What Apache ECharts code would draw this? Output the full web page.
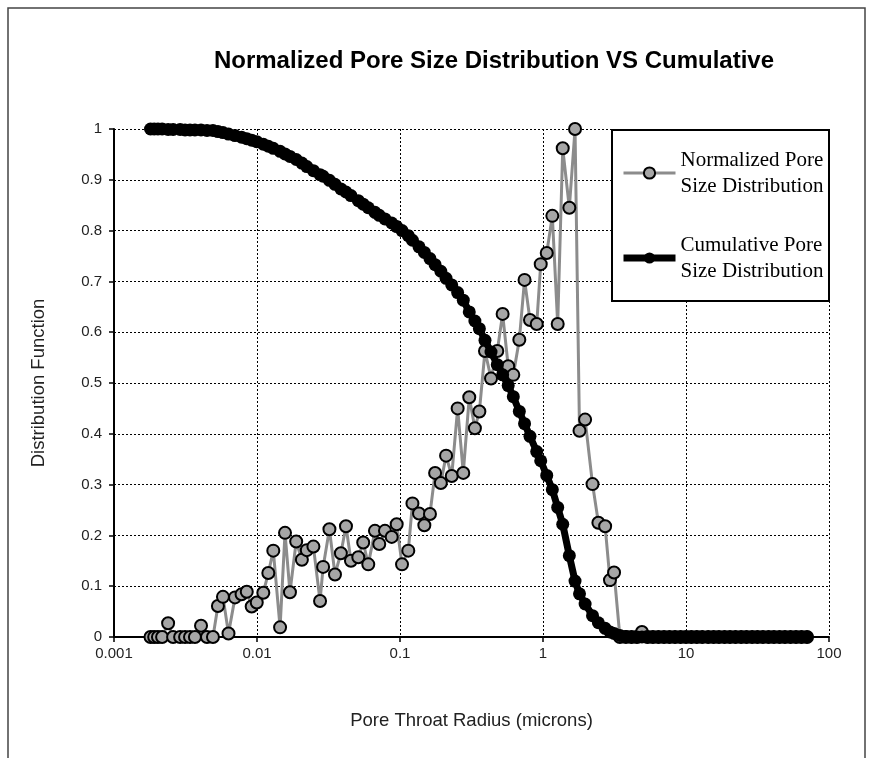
<!DOCTYPE html>
<html>
<head>
<meta charset="utf-8">
<style>
  html, body { margin: 0; padding: 0; background: #fff; }
  #chart { width: 870px; height: 758px; }
</style>
<script src="https://cdn.jsdelivr.net/npm/echarts/dist/echarts.min.js"></script>
</head>
<body>
<div id="chart"></div>
<script>
// pore throat radius (microns), shared by both series
const radius = [
  0.0018, 0.00191, 0.00203, 0.00217, 0.00239, 0.00259, 0.0029, 0.00314, 0.0034, 0.00368,
  0.00406, 0.00447, 0.00492, 0.00533, 0.00578, 0.00632, 0.00702, 0.0078, 0.00848, 0.00918,
  0.00996, 0.01107, 0.012, 0.013, 0.0145, 0.0157, 0.017, 0.0188, 0.0206, 0.0223,
  0.0248, 0.0276, 0.029, 0.0321, 0.0351, 0.0386, 0.0419, 0.0454, 0.0511, 0.0553,
  0.06, 0.0668, 0.0716, 0.0785, 0.0875, 0.0948, 0.1033, 0.1143, 0.1222, 0.1358,
  0.148, 0.162, 0.176, 0.193, 0.21, 0.23, 0.253, 0.277, 0.305, 0.334,
  0.359, 0.393, 0.433, 0.479, 0.522, 0.571, 0.62, 0.683, 0.743, 0.811,
  0.904, 0.964, 1.062, 1.162, 1.267, 1.374, 1.528, 1.675, 1.8, 1.97,
  2.22, 2.44, 2.72, 2.94, 3.14, 3.45, 3.8, 4.16, 4.54, 4.92,
  5.38, 5.87, 6.42, 7.02, 7.67, 8.38, 9.16, 10.0, 10.9, 11.9,
  13.0, 14.3, 15.6, 17.0, 18.6, 20.3, 22.2, 24.3, 26.5, 29.0,
  31.6, 34.5, 37.8, 41.2, 45.1, 49.2, 53.8, 58.8, 64.2, 70.2
];

// normalized pore size distribution
const normalized = [
  0, 0, 0, 0, 0.027, 0, 0, 0, 0, 0,
  0.022, 0, 0, 0.061, 0.079, 0.007, 0.078, 0.084, 0.089, 0.060,
  0.068, 0.087, 0.126, 0.170, 0.019, 0.205, 0.088, 0.188, 0.152, 0.171,
  0.178, 0.071, 0.138, 0.212, 0.123, 0.165, 0.218, 0.150, 0.157, 0.186,
  0.143, 0.209, 0.183, 0.209, 0.197, 0.222, 0.143, 0.170, 0.263, 0.243,
  0.220, 0.242, 0.323, 0.303, 0.357, 0.317, 0.450, 0.323, 0.472, 0.411,
  0.444, 0.563, 0.509, 0.563, 0.636, 0.533, 0.516, 0.585, 0.703, 0.624,
  0.616, 0.734, 0.756, 0.829, 0.616, 0.962, 0.845, 1.0, 0.406, 0.428,
  0.301, 0.225, 0.218, 0.112, 0.127, 0, 0, 0, 0, 0.01,
  0, 0, 0, 0, 0, 0, 0, 0, 0, 0,
  0, 0, 0, 0, 0, 0, 0, 0, 0, 0,
  0, 0, 0, 0, 0, 0, 0, 0, 0, 0
];

// cumulative pore size distribution
const cumulative = [
  1.0, 1.0, 1.0, 1.0, 0.999, 0.999, 0.999, 0.998, 0.998, 0.998,
  0.998, 0.997, 0.997, 0.995, 0.993, 0.990, 0.987, 0.984, 0.981, 0.978,
  0.975, 0.970, 0.966, 0.962, 0.956, 0.951, 0.946, 0.940, 0.933, 0.926,
  0.918, 0.910, 0.907, 0.899, 0.891, 0.882, 0.876, 0.869, 0.859, 0.852,
  0.845, 0.836, 0.830, 0.823, 0.815, 0.808, 0.800, 0.790, 0.781, 0.768,
  0.757, 0.745, 0.733, 0.720, 0.706, 0.693, 0.678, 0.663, 0.640, 0.622,
  0.607, 0.584, 0.561, 0.536, 0.516, 0.495, 0.473, 0.444, 0.420, 0.395,
  0.365, 0.347, 0.318, 0.290, 0.255, 0.222, 0.160, 0.110, 0.085, 0.065,
  0.042, 0.028, 0.017, 0.010, 0.007, 0.003, 0.001, 0, 0, 0,
  0, 0, 0, 0, 0, 0, 0, 0, 0, 0,
  0, 0, 0, 0, 0, 0, 0, 0, 0, 0,
  0, 0, 0, 0, 0, 0, 0, 0, 0, 0
];

const xTickLabels = ["0.001", "0.01", "0.1", "1", "10", "100"];
const seriesNames = ["Normalized Pore Size Distribution", "Cumulative Pore Size Distribution"];

const chartDom = document.getElementById("chart");
const myChart = echarts.init(chartDom, null, { renderer: "canvas" });

const sansFont = "'Liberation Sans', Arial, sans-serif";
const serifFont = "'Liberation Serif', 'Times New Roman', serif";

const option = {
  backgroundColor: "#fff",
  animation: false,
  textStyle: { fontFamily: sansFont, color: "#000" },
  grid: { left: 114, right: 41, top: 129, bottom: 121, containLabel: false },
  xAxis: {
    type: "log",
    logBase: 10,
    min: 0.001,
    max: 100,
    name: "Pore Throat Radius (microns)",
    nameLocation: "middle",
    nameGap: 74,
    nameTextStyle: { fontSize: 18.5, color: "#222", fontFamily: sansFont },
    axisLine: { lineStyle: { color: "#000", width: 2 } },
    axisTick: { show: true, length: 5, lineStyle: { color: "#000", width: 1.5 } },
    axisLabel: {
      fontSize: 15,
      color: "#222",
      margin: 9,
      formatter: function (v) {
        const idx = Math.round(Math.log10(v)) + 3;
        return xTickLabels[idx] || "";
      },
    },
    splitLine: { show: true, lineStyle: { color: "#000", width: 1, type: [2, 2] } },
    minorTick: { show: false },
  },
  yAxis: {
    type: "value",
    min: 0,
    max: 1,
    interval: 0.1,
    name: "Distribution Function",
    nameLocation: "middle",
    nameGap: 66,
    nameTextStyle: { fontSize: 18.5, color: "#222", fontFamily: sansFont },
    axisLine: { show: true, lineStyle: { color: "#000", width: 2 } },
    axisTick: { show: true, length: 5, lineStyle: { color: "#000", width: 1.5 } },
    axisLabel: {
      fontSize: 15,
      color: "#222",
      margin: 12,
      formatter: function (v) { return String(Math.round(v * 10) / 10); },
    },
    splitLine: { show: true, lineStyle: { color: "#000", width: 1, type: [2, 2] } },
  },
  legend: {
    show: true,
    orient: "vertical",
    left: 620,
    top: 147,
    padding: 0,
    itemGap: 33,
    itemWidth: 52,
    itemHeight: 14,
    z: 20,
    textStyle: { fontFamily: serifFont, fontSize: 21, lineHeight: 26, color: "#000" },
    formatter: function (name) { return name.replace(" Size", "\nSize"); },
    data: [
      { name: seriesNames[0], lineStyle: { width: 3, color: "#8c8c8c" } },
      { name: seriesNames[1], lineStyle: { width: 7, color: "#000" } },
    ],
  },
  graphic: [
    {
      type: "rect",
      z: 100,
      silent: true,
      shape: { x: 8, y: 8, width: 857, height: 800 },
      style: { fill: "none", stroke: "#444", lineWidth: 1.5 },
    },
    {
      type: "rect",
      z: 10,
      silent: true,
      shape: { x: 612, y: 130, width: 217, height: 171 },
      style: { fill: "#fff", stroke: "#000", lineWidth: 2 },
    },
    {
      type: "text",
      z: 10,
      x: 494,
      y: 61,
      style: {
        text: "Normalized Pore Size Distribution VS Cumulative",
        fontFamily: sansFont,
        fontWeight: "bold",
        fontSize: 24,
        fill: "#000",
        textAlign: "center",
        textVerticalAlign: "middle",
      },
    },
  ],
  series: [
    {
      name: seriesNames[0],
      type: "line",
      z: 3,
      data: radius.map((r, i) => [r, normalized[i]]),
      symbol: "circle",
      symbolSize: 12,
      showAllSymbol: true,
      lineStyle: { color: "#8c8c8c", width: 3 },
      itemStyle: { color: "#a6a6a6", borderColor: "#000", borderWidth: 2 },
    },
    {
      name: seriesNames[1],
      type: "line",
      z: 6,
      data: radius.map((r, i) => [r, cumulative[i]]),
      symbol: "circle",
      symbolSize: 13,
      showAllSymbol: true,
      lineStyle: { color: "#000", width: 7 },
      itemStyle: { color: "#000", borderColor: "#000", borderWidth: 0 },
    },
  ],
};

myChart.setOption(option);
</script>
</body>
</html>
